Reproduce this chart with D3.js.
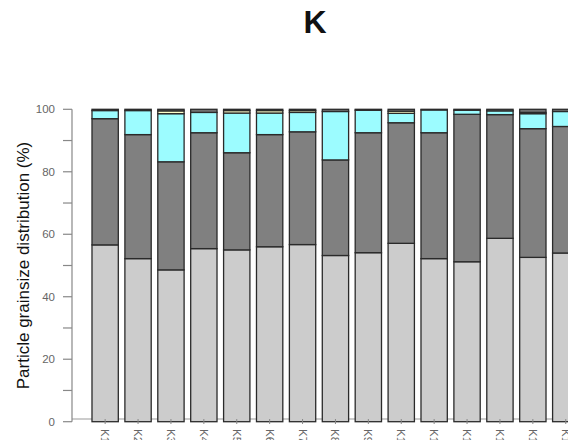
<!DOCTYPE html>
<html>
<head>
<meta charset="utf-8">
<script src="https://cdn.jsdelivr.net/npm/d3@7"></script>
<style>
  body { margin: 0; background: #fff; }
  svg { display: block; }
</style>
</head>
<body>
<script>
var samples = ["K1","K2","K3","K4","K5","K6","K7","K8","K9","K10","K11","K12","K13","K14","K15"];
var layers = ["fine", "medium", "coarse", "gravel", "other"];
var fine   = [56.6, 52.2, 48.6, 55.4, 55.0, 56.0, 56.7, 53.2, 54.1, 57.1, 52.2, 51.2, 58.7, 52.6, 54.0];
var medium = [40.4, 39.7, 34.6, 37.1, 31.1, 35.9, 36.1, 30.6, 38.4, 38.6, 40.3, 47.2, 39.6, 41.2, 40.5];
var coarse = [2.6, 7.7, 15.4, 6.5, 12.7, 6.9, 6.2, 15.5, 7.2, 3.0, 7.3, 1.3, 1.2, 4.8, 4.8];
var gravel = [0, 0, 0.9, 0, 0.8, 0.8, 0.6, 0, 0, 0.7, 0, 0, 0, 0.4, 0];
var other  = [0.4, 0.4, 0.5, 1.0, 0.4, 0.4, 0.4, 0.7, 0.3, 0.6, 0.2, 0.3, 0.5, 1.0, 0.7];
var yTicks = [0, 20, 40, 60, 80, 100];
var colors = {fine: "#cccccc", medium: "#808080", coarse: "#9cfcff", gravel: "#ffffcc", other: "#707070"};

var rows = samples.map(function(s, i) {
  return {sample: s, fine: fine[i], medium: medium[i], coarse: coarse[i], gravel: gravel[i], other: other[i]};
});

var width = 568, height = 440;
var svg = d3.select("body").append("svg").attr("width", width).attr("height", height);

var x = d3.scaleBand().domain(samples).range([88.7, 582.2]).paddingInner(0.2).paddingOuter(0.1);
var y = d3.scaleLinear().domain([0, 100]).range([421.7, 109.3]);

var stack = d3.stack().keys(layers)(rows);

// x axis baseline
svg.append("line")
  .attr("x1", 72).attr("x2", width)
  .attr("y1", 419).attr("y2", 419)
  .attr("stroke", "#999").attr("stroke-width", 1.2);

svg.append("g").selectAll("g")
  .data(stack)
  .enter().append("g")
  .attr("fill", function(d) { return colors[d.key]; })
  .selectAll("rect")
  .data(function(d) { return d; })
  .enter().append("rect")
  .attr("x", function(d) { return x(d.data.sample); })
  .attr("width", x.bandwidth())
  .attr("y", function(d) { return y(d[1]); })
  .attr("height", function(d) { return y(d[0]) - y(d[1]); })
  .attr("stroke", "#2a2a2a")
  .attr("stroke-width", 1.3);

// y axis, R style
var yAxis = svg.append("g").attr("transform", "translate(72,0)");
yAxis.append("line")
  .attr("x1", 0).attr("x2", 0)
  .attr("y1", y(0)).attr("y2", y(100))
  .attr("stroke", "#888").attr("stroke-width", 1.2);
yAxis.selectAll(".tick")
  .data(d3.range(0, 101, 10))
  .enter().append("line")
  .attr("x1", -9).attr("x2", 0)
  .attr("y1", function(d) { return y(d); })
  .attr("y2", function(d) { return y(d); })
  .attr("stroke", "#888").attr("stroke-width", 1.2);
yAxis.selectAll("text")
  .data(yTicks)
  .enter().append("text")
  .attr("x", -17)
  .attr("y", function(d) { return y(d); })
  .attr("dy", "0.35em")
  .attr("text-anchor", "end")
  .attr("font-family", "Liberation Sans, Arial, sans-serif")
  .attr("font-size", "11.5px")
  .attr("fill", "#666")
  .text(function(d) { return d; });

// x ticks and labels
var xAxis = svg.append("g");
xAxis.selectAll("line")
  .data(samples)
  .enter().append("line")
  .attr("x1", function(d) { return x(d) + x.bandwidth() / 2; })
  .attr("x2", function(d) { return x(d) + x.bandwidth() / 2; })
  .attr("y1", 419).attr("y2", 424)
  .attr("stroke", "#888");
xAxis.selectAll("text")
  .data(samples)
  .enter().append("text")
  .attr("transform", function(d) {
    return "translate(" + (x(d) + x.bandwidth() / 2) + ",429) rotate(90)";
  })
  .attr("dy", "0.35em")
  .attr("text-anchor", "start")
  .attr("font-family", "Liberation Sans, Arial, sans-serif")
  .attr("font-size", "11.5px")
  .attr("fill", "#666")
  .text(function(d) { return d; });

// y title
svg.append("text")
  .attr("transform", "translate(29," + ((y(0) + y(100)) / 2) + ") rotate(-90)")
  .attr("text-anchor", "middle")
  .attr("font-family", "Liberation Sans, Arial, sans-serif")
  .attr("font-size", "17px")
  .attr("fill", "#111")
  .text("Particle grainsize distribution (%)");

// title
svg.append("text")
  .attr("x", 315).attr("y", 33)
  .attr("text-anchor", "middle")
  .attr("font-family", "Liberation Sans, Arial, sans-serif")
  .attr("font-weight", "bold")
  .attr("font-size", "32px")
  .attr("fill", "#111")
  .text("K");
</script>
</body>
</html>
